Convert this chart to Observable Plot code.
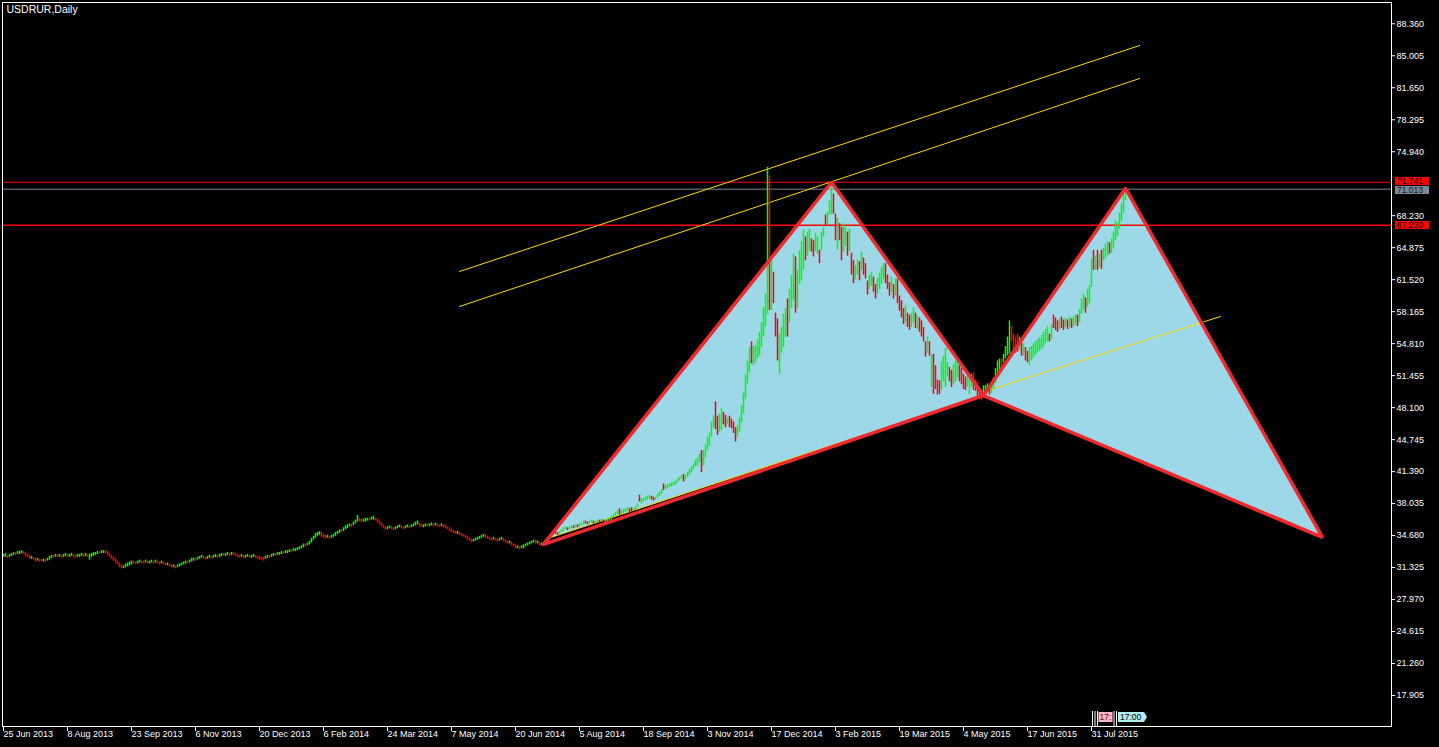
<!DOCTYPE html>
<html><head><meta charset="utf-8">
<script src="https://cdn.jsdelivr.net/npm/d3@7"></script>
<script src="https://cdn.jsdelivr.net/npm/@observablehq/plot@0.6"></script>
<style>html,body{margin:0;padding:0;background:#000;overflow:hidden}</style>
</head><body><div id="chart"></div>
<script>
// Daily bars [open, close] (bar index = trading day from 25 Jun 2013)
const preX = [
[32.4,32.7],[32.4,32.8],[32.6,32.3],[32.4,32.7],[32.5,32.8],[32.6,32.9],[32.9,32.6],[32.7,33.0],[32.7,33.0],[32.8,33.1],
[33.0,32.7],[32.9,32.5],[32.7,32.4],[32.6,32.2],[32.2,32.5],[32.4,32.1],[32.3,31.9],[32.0,32.3],[32.2,31.9],[32.2,31.9],
[31.9,32.2],[32.2,31.9],[32.0,32.3],[32.1,32.5],[32.3,32.6],[32.6,32.3],[32.4,32.7],[32.7,32.4],[32.4,32.7],[32.6,32.3],
[32.4,32.7],[32.5,32.8],[32.7,32.4],[32.4,32.7],[32.5,32.8],[32.7,32.4],[32.6,32.3],[32.4,32.7],[32.4,32.7],[32.5,32.8],
[32.7,32.4],[32.5,32.8],[32.7,32.4],[32.1,32.7],[32.4,32.8],[32.5,32.9],[32.6,32.9],[32.7,33.0],[33.0,32.7],[32.8,33.1],
[32.8,33.1],[33.1,32.8],[33.0,32.6],[32.8,32.4],[32.6,32.2],[32.4,32.0],[32.2,31.8],[32.0,31.6],[31.8,31.3],[31.6,31.2],
[31.2,31.5],[31.3,31.7],[31.4,31.8],[31.5,31.9],[31.6,32.0],[32.0,31.7],[31.9,31.6],[31.7,32.0],[31.8,32.1],[32.0,31.7],
[32.0,31.7],[31.8,32.1],[32.0,31.7],[31.7,32.0],[31.8,32.1],[32.0,31.7],[31.8,32.1],[32.0,31.7],[31.9,31.6],[31.7,32.0],
[31.9,31.6],[31.8,31.5],[31.5,31.8],[31.7,31.4],[31.6,31.3],[31.3,31.6],[31.5,31.2],[31.3,31.6],[31.4,31.7],[31.5,31.8],
[31.6,31.9],[31.7,32.0],[32.0,31.7],[31.8,32.1],[31.9,32.3],[32.0,32.3],[32.3,32.0],[32.1,32.4],[32.2,32.5],[32.3,32.6],
[32.5,32.2],[32.4,32.1],[32.2,32.5],[32.3,32.6],[32.5,32.2],[32.3,32.6],[32.4,32.7],[32.6,32.3],[32.4,32.7],[32.5,32.8],
[32.8,32.5],[32.5,32.8],[32.6,32.9],[32.8,32.5],[32.6,32.9],[32.9,32.6],[32.8,32.5],[32.7,32.4],[32.6,32.3],[32.4,32.7],
[32.6,32.3],[32.3,32.6],[32.4,32.7],[32.6,32.3],[32.3,32.6],[32.4,32.7],[32.6,32.3],[32.5,32.2],[32.5,32.1],[32.4,32.1],
[32.4,32.0],[32.2,32.5],[32.3,32.6],[32.6,32.3],[32.4,32.7],[32.5,32.8],[32.8,32.5],[32.6,32.9],[32.6,32.9],[32.7,33.0],
[33.0,32.7],[32.8,33.1],[32.8,33.1],[32.9,33.2],[33.2,32.9],[33.0,33.3],[33.0,33.3],[33.1,33.4],[33.2,33.5],[33.3,33.6],
[33.4,33.8],[33.8,33.5],[33.6,33.9],[33.7,34.1],[33.9,34.4],[34.2,34.6],[34.4,34.9],[34.6,35.0],[34.7,35.1],[35.0,34.5],
[34.8,34.4],[34.7,34.3],[34.4,34.7],[34.6,34.3],[34.4,34.7],[34.5,34.8],[34.6,35.0],[34.8,35.1],[34.9,35.3],[35.3,35.0],
[35.1,35.5],[35.3,35.7],[35.4,35.8],[35.6,35.9],[35.9,35.5],[35.7,36.1],[35.9,36.3],[36.1,36.8],[36.5,36.1],[36.4,36.0],
[36.1,36.4],[36.1,36.5],[36.2,36.5],[36.5,36.2],[36.3,36.6],[36.3,36.7],[36.5,36.2],[36.4,36.0],[36.2,35.8],[36.0,35.6],
[35.8,35.4],[35.6,35.2],[35.3,35.6],[35.4,35.7],[35.6,35.3],[35.5,35.2],[35.3,35.6],[35.4,35.7],[35.5,35.8],[35.7,35.4],
[35.6,35.3],[35.4,35.7],[35.5,35.8],[35.7,35.4],[35.5,35.8],[35.6,35.9],[35.7,36.1],[35.8,36.2],[36.0,35.6],[35.9,35.5],
[35.5,35.8],[35.6,35.9],[35.9,35.6],[35.6,35.9],[35.7,36.0],[35.9,35.6],[35.7,36.0],[35.9,35.6],[35.8,35.5],[35.6,35.9],
[35.8,35.5],[35.8,35.4],[35.6,35.3],[35.5,35.1],[35.3,35.0],[35.2,34.9],[35.1,34.8],[34.8,35.1],[35.0,34.7],[34.9,34.6],
[34.8,34.5],[34.7,34.4],[34.6,34.2],[34.4,34.1],[34.3,33.9],[34.0,34.3],[34.1,34.4],[34.2,34.5],[34.3,34.6],[34.4,34.7],
[34.5,34.8],[34.8,34.4],[34.6,34.3],[34.5,34.2],[34.4,34.1],[34.2,34.5],[34.4,34.1],[34.3,34.0],[34.1,34.4],[34.2,34.5],
[34.4,34.0],[34.2,33.9],[34.1,33.8],[33.8,34.1],[34.0,33.6],[33.8,33.5],[33.7,33.3],[33.3,33.6],[33.5,33.2],[33.3,33.6],
[33.3,33.7],[33.5,33.8],[33.6,33.9],[33.7,34.0],[33.8,34.1],[33.9,34.2],[34.2,33.8],[33.8,34.1],[34.0,33.6],[33.6,33.9],
[33.7,34.0],[33.8,34.1]
];
const legXA = [
[34.1,34.4],[34.2,34.5],[34.4,34.9],[34.7,35.1],[35.1,34.8],[35.0,34.7],[34.8,35.1],[35.0,35.3],[35.1,35.5],[35.3,35.6],
[35.5,35.2],[35.3,35.6],[35.4,35.7],[35.7,35.4],[35.5,35.8],[35.8,35.5],[35.6,35.9],[35.7,36.0],[35.8,36.2],[36.2,35.9],
[36.1,35.8],[35.9,36.2],[36.0,36.3],[36.2,35.9],[35.9,36.2],[36.0,36.3],[36.3,36.0],[36.1,36.4],[36.3,36.0],[36.0,36.3],
[36.1,36.4],[36.2,36.5],[36.3,36.7],[36.5,36.9],[36.7,37.1],[36.9,37.3],[37.5,36.8],[36.9,37.3],[37.0,37.4],[37.1,37.5],
[37.2,37.6],[37.5,37.1],[37.6,37.1],[37.2,37.5],[37.3,37.7],[37.6,38.0],[38.9,38.2],[38.0,38.5],[38.2,38.6],[38.3,38.7],
[38.4,38.8],[38.5,38.9],[38.8,38.4],[38.7,38.3],[38.4,38.7],[38.6,39.0],[38.8,39.2],[39.0,39.5],[40.1,39.4],[39.5,39.9],
[39.6,40.0],[39.7,40.1],[39.8,40.2],[39.9,40.3],[40.0,40.4],[40.2,40.6],[40.4,40.8],[40.6,41.0],[41.1,40.3],[40.5,41.0],
[40.8,41.3],[41.0,41.6],[41.3,41.9],[41.6,42.2],[41.9,42.6],[42.0,42.8],[42.3,43.2],[43.6,41.3],[42.0,43.6],[42.8,44.2],
[43.6,45.0],[44.0,45.4],[45.0,46.6],[46.0,47.2],[48.7,45.8],[47.2,45.2],[45.5,47.4],[45.7,48.0],[47.6,46.3],[47.3,46.0],
[46.3,47.0],[47.2,46.0],[46.9,45.9],[46.6,45.4],[46.0,44.5],[45.0,46.2],[45.5,47.0],[46.5,48.3],[47.4,49.6],[49.0,51.5],
[50.6,53.0],[51.8,54.4],[55.0,52.7],[52.5,54.5],[52.8,54.6],[53.2,55.2],[53.5,56.0],[54.4,57.0],[55.5,58.6],[56.5,60.0],
[57.9,73.3],[72.4,58.3],[58.3,63.7],[62.3,59.0],[58.0,55.5],[57.4,53.0],[51.6,55.8],[53.8,56.5],[54.4,57.9],[55.5,58.5],
[59.5,55.5],[57.0,60.5],[58.5,62.0],[59.3,64.2],[63.9,58.0],[58.5,62.5],[61.0,64.5],[61.4,65.5],[62.5,66.7],[66.0,63.5],
[64.0,66.5],[64.5,66.8],[65.8,64.4],[65.6,63.9],[64.5,66.4],[64.2,66.0],[64.6,63.2],[64.6,66.5],[66.0,67.0],[68.3,67.2],
[67.2,68.6],[68.3,69.8],[68.3,71.7]
];
const legAB = [
[70.5,68.4],[68.4,65.6],[64.6,68.0],[67.4,65.6],[67.0,63.5],[64.4,67.4],[65.0,67.0],[66.5,64.0],[64.5,66.8],[64.3,62.0],
[63.5,61.1],[61.5,63.0],[62.0,63.6],[63.4,61.4],[62.5,64.4],[63.8,62.0],[63.2,61.6],[61.4,59.9],[60.5,62.0],[60.8,62.3],
[61.8,60.2],[61.0,59.5],[60.0,61.6],[60.5,62.2],[61.0,62.8],[61.5,63.2],[63.2,61.1],[62.0,60.5],[61.2,59.8],[60.2,61.8],
[61.0,59.5],[59.8,61.6],[61.6,59.0],[59.8,58.2],[59.3,57.5],[58.5,56.8],[57.0,58.8],[58.0,56.5],[57.8,56.2],[56.5,58.0],
[57.0,58.6],[58.0,56.4],[56.3,57.7],[57.5,56.0],[57.2,55.5],[56.5,55.0],[55.0,53.4],[53.8,55.5],[55.0,53.5],[50.2,53.6],
[53.7,49.5],[52.5,50.0],[51.0,49.4],[50.9,49.5],[49.9,52.9],[50.8,53.5],[50.2,54.3],[51.3,52.8],[52.3,50.8],[52.0,50.2],
[50.5,52.6],[50.8,53.0],[51.2,53.2],[52.5,50.8],[52.2,50.5],[51.6,50.0],[51.3,49.9],[50.3,51.5],[49.5,51.3],[50.2,51.6],
[51.8,49.9],[51.0,49.8],[50.8,49.2],[50.2,49.0],[50.0,48.8],[49.3,50.4]
];
const legBC = [
[49.5,50.4],[49.7,50.6],[50.3,49.4],[49.6,50.6],[50.0,51.2],[50.6,52.2],[51.3,53.0],[51.5,53.2],[53.2,52.0],[52.8,53.7],
[53.2,54.5],[53.5,55.5],[53.7,57.2],[56.6,55.0],[55.8,53.7],[55.5,53.8],[55.8,53.9],[54.1,55.5],[55.0,53.5],[53.5,54.8],
[54.4,53.0],[54.0,52.8],[52.5,54.4],[53.0,54.5],[53.3,54.8],[53.6,55.0],[53.8,55.2],[54.0,55.4],[54.2,55.7],[54.4,56.0],
[54.8,56.3],[55.0,56.6],[55.8,55.0],[55.3,56.8],[57.8,56.4],[57.5,56.2],[57.2,56.0],[56.3,57.4],[57.6,56.4],[57.3,56.2],
[56.5,57.5],[57.3,56.3],[56.5,57.6],[57.4,56.4],[56.6,57.6],[56.8,57.8],[57.8,56.6],[57.0,58.4],[57.9,59.5],[58.3,60.0],
[59.6,58.0],[58.6,60.5],[59.0,60.9],[60.7,63.7],[64.6,62.5],[62.5,64.0],[64.6,62.5],[62.8,64.2],[64.6,62.6],[63.5,64.8],
[63.7,65.2],[64.0,65.5],[65.4,64.2],[64.3,65.8],[64.8,66.5],[65.6,67.7],[66.0,67.5],[66.8,68.5],[67.6,69.5],[68.5,70.5],
[69.8,71.2]
];

// Pattern vertices [bar index, price]
const ptX = [270, 33.75], ptA = [414, 71.741], ptB = [490, 49.37], ptC = [561, 71.1], ptD = [659.5, 34.48];
const fillStart = [272.5, 34.40];
// Trend lines [[i1, p1], [i2, p2]]
const channelUpper = [[228, 62.38], [568, 86.08]];
const channelLower = [[228, 58.71], [568, 82.62]];
const trendBC = [[492, 49.9], [608.5, 57.66]];
// Horizontal levels
const levels = [
  {v: 71.741, line: "#ff0000", w: 1, bg: "#ff0000", fg: "#000", shift: -1},
  {v: 71.013, line: "#778899", w: 1, bg: "#778899", fg: "#1a1a1a", shift: 1},
  {v: 67.230, line: "#ff0000", w: 1.4, bg: "#ff0000", fg: "#000", shift: 0}
];
// Axis ticks
const yTicks = [17.905, 21.260, 24.615, 27.970, 31.325, 34.680, 38.035, 41.390, 44.745, 48.100, 51.455, 54.810, 58.165, 61.520, 64.875, 68.230, 74.940, 78.295, 81.650, 85.005, 88.360];
const xLabels = ["25 Jun 2013","8 Aug 2013","23 Sep 2013","6 Nov 2013","20 Dec 2013","6 Feb 2014","24 Mar 2014","7 May 2014","20 Jun 2014","5 Aug 2014","18 Sep 2014","3 Nov 2014","17 Dec 2014","3 Feb 2015","19 Mar 2015","4 May 2015","17 Jun 2015","31 Jul 2015"];
const barsPerLabel = 32;

const bars = [...preX, ...legXA, ...legAB, ...legBC].map(([o, c], i) => ({i, o, c}));
const up = bars.filter(d => d.c >= d.o), dn = bars.filter(d => d.c < d.o);
const xTickIdx = xLabels.map((_, k) => k * barsPerLabel);
const FONT = "'Liberation Sans', Arial, sans-serif";
const RED = "#ee2a2e", FILL = "#9dd8e9", YEL = "#ffd700";
const px = d => d[0], py = d => d[1];

const chart = Plot.plot({
  width: 1439, height: 747,
  marginLeft: 2, marginRight: 48, marginTop: 2, marginBottom: 21,
  style: {background: "#000", color: "#fff", fontFamily: FONT, fontSize: "9px"},
  x: {domain: [-0.5, 694], axis: "bottom", ticks: xTickIdx, tickFormat: () => "", tickSize: 5, label: null},
  y: {domain: [14.653, 90.594], axis: "right", ticks: yTicks, tickFormat: d => d.toFixed(3), tickSize: 3, tickPadding: 2, label: null},
  marks: [
    Plot.line([fillStart, ptA, ptB], {x: px, y: py, fill: FILL, stroke: "none"}),
    Plot.line([ptB, ptC, ptD], {x: px, y: py, fill: FILL, stroke: "none"}),
    Plot.line([fillStart, ptB], {x: px, y: py, stroke: YEL, strokeWidth: 1}),
    ...levels.map(l => Plot.ruleY([l.v], {stroke: l.line, strokeWidth: l.w})),
    Plot.line(channelUpper, {x: px, y: py, stroke: YEL, strokeWidth: 1}),
    Plot.line(channelLower, {x: px, y: py, stroke: YEL, strokeWidth: 1}),
    Plot.line(trendBC, {x: px, y: py, stroke: YEL, strokeWidth: 1}),
    Plot.ruleX(up, {x: "i", y1: "o", y2: "c", stroke: "#00ff00", strokeWidth: 1.5}),
    Plot.ruleX(dn, {x: "i", y1: "o", y2: "c", stroke: "#ff0000", strokeWidth: 1.5}),
    Plot.line([ptX, ptA, ptB, ptX], {x: px, y: py, stroke: RED, strokeWidth: 3.5, strokeLinejoin: "miter"}),
    Plot.line([ptB, ptC, ptD, ptB], {x: px, y: py, stroke: RED, strokeWidth: 3.5, strokeLinejoin: "miter"}),
    Plot.frame({stroke: "#fff"}),
    Plot.text(xLabels, {x: (d, k) => xTickIdx[k], text: d => d, frameAnchor: "bottom", textAnchor: "start", lineAnchor: "top", dx: 0, dy: 4, fill: "#fff"}),
    Plot.text(["USDRUR,Daily"], {frameAnchor: "top-left", textAnchor: "start", lineAnchor: "top", dx: 4, dy: 3, fontSize: 10.5, fill: "#fff"})
  ]
});
document.getElementById("chart").appendChild(chart);

// Price tags on the right axis, placed with the plot's own scales
const ys = chart.scale("y"), xs = chart.scale("x");
const svg = d3.select(chart);
const g = svg.append("g").attr("font-family", FONT).attr("font-size", 8.5).attr("text-anchor", "start");
[levels[1], levels[0], levels[2]].forEach(l => {
  const y = Math.round(ys.apply(l.v)) + l.shift;
  g.append("rect").attr("x", 1395).attr("y", y - 4).attr("width", 34).attr("height", 8).attr("fill", l.bg);
  g.append("text").attr("x", 1397).attr("y", y).attr("dy", "0.35em").attr("fill", l.fg).text(l.v.toFixed(3));
});
// vertical-line labels near the time axis
const base = Math.round(xs.apply(544.5)), yb = ys.apply(14.653);
[0, 2.5, 5].forEach(o => g.append("line").attr("x1", base + o + 0.5).attr("x2", base + o + 0.5).attr("y1", yb - 15).attr("y2", yb).attr("stroke", "#fff"));
g.append("rect").attr("x", base + 6.5).attr("y", yb - 14).attr("width", 14).attr("height", 10).attr("fill", "#ffb6c1");
g.append("text").attr("x", base + 7.5).attr("y", yb - 9).attr("dy", "0.35em").attr("fill", "#800000").text("17:");
[21.5, 24].forEach(o => g.append("line").attr("x1", base + o + 0.5).attr("x2", base + o + 0.5).attr("y1", yb - 15).attr("y2", yb).attr("stroke", "#fff"));
g.append("path").attr("d", `M${base+26},${yb-14}h26l3,5l-3,5h-26z`).attr("fill", "#b0ecf0");
g.append("text").attr("x", base + 28).attr("y", yb - 9).attr("dy", "0.35em").attr("fill", "#000").text("17:00");
</script>
</body></html>
